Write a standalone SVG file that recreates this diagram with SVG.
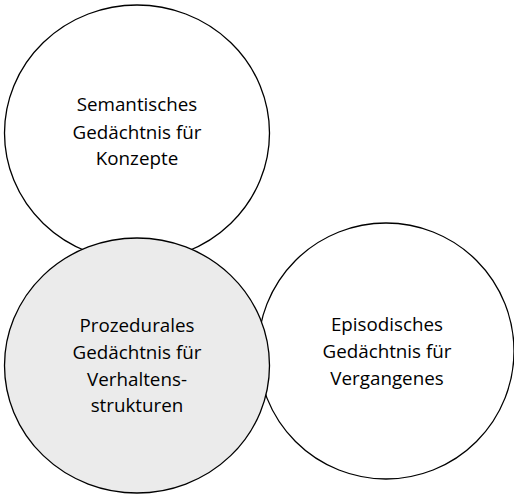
<svg xmlns="http://www.w3.org/2000/svg" width="514" height="495" viewBox="0 0 514 495">
<style>
.c{stroke:#000;stroke-width:1.3}
.t{font-family:"Open Sans","Noto Sans","Liberation Sans",sans-serif;font-size:18.8px;fill:#000;text-anchor:middle}
</style>
<rect width="514" height="495" fill="#fff"/>
<g id="semantisch">
<ellipse class="c" cx="137" cy="133" rx="132.5" ry="128" fill="#fff"/>
<text class="t" x="137" y="111">Semantisches</text>
<text class="t" x="137" y="138.5">Gedächtnis für</text>
<text class="t" x="137" y="165">Konzepte</text>
</g>
<g id="episodisch">
<ellipse class="c" cx="386" cy="351" rx="128" ry="128" fill="#fff"/>
<text class="t" x="387" y="331">Episodisches</text>
<text class="t" x="387" y="358">Gedächtnis für</text>
<text class="t" x="387" y="384.5">Vergangenes</text>
</g>
<g id="prozedural">
<ellipse class="c" cx="137" cy="365.5" rx="132.5" ry="127.5" fill="#ebebeb"/>
<text class="t" x="137" y="332">Prozedurales</text>
<text class="t" x="137" y="359">Gedächtnis für</text>
<text class="t" x="137" y="385.5">Verhaltens-</text>
<text class="t" x="137" y="412">strukturen</text>
</g>
<g id="connectors"/>
</svg>
